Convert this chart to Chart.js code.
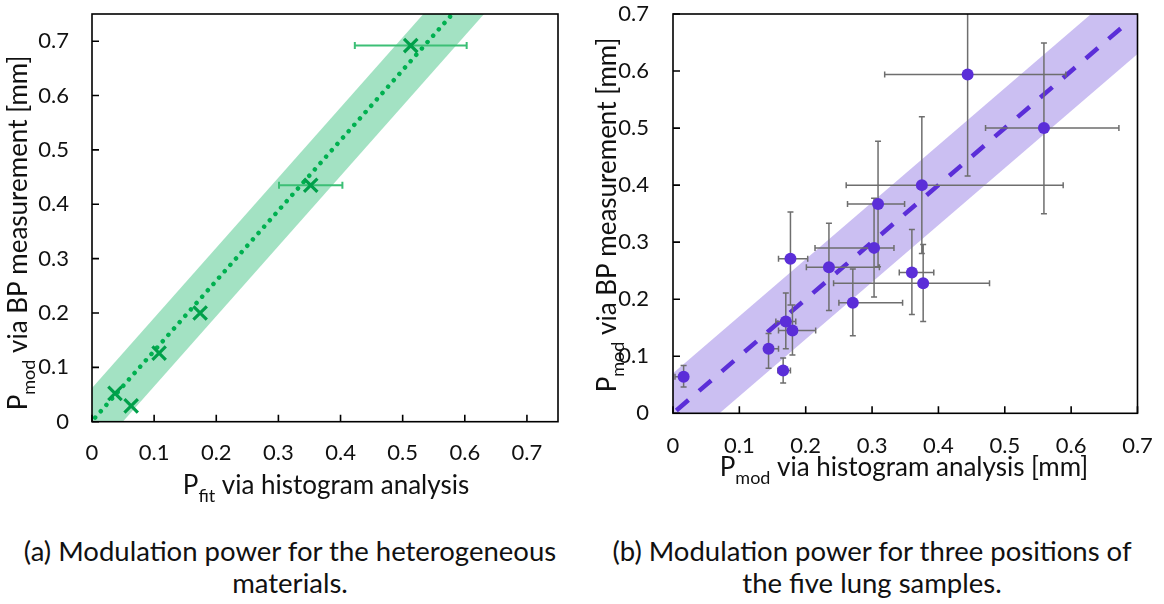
<!DOCTYPE html>
<html>
<head>
<meta charset="utf-8">
<script src="https://cdn.jsdelivr.net/npm/chart.js@4.4.1/dist/chart.umd.min.js"></script>
<style>
  html, body { margin: 0; padding: 0; background: #fff; }
  body { width: 1164px; height: 604px; position: relative; overflow: hidden; }
  canvas { position: absolute; top: 0; }
  #chartA { left: 0; }
  #chartB { left: 580px; }
  .caption {
    position: absolute; width: 580px; text-align: center;
    font-family: Lato, sans-serif; font-size: 27.5px; line-height: 32px; color: #111;
  }
</style>
</head>
<body>
<canvas id="chartA" width="580" height="520"></canvas>
<canvas id="chartB" width="584" height="520"></canvas>
<div class="caption" style="left:0; top:535px;">(a) Modulation power for the heterogeneous<br>materials.</div>
<div class="caption" style="left:582px; top:535px;">(b) Modulation power for three positions of<br>the five lung samples.</div>
<script>
(() => {
  // ---- DATA ----
  const tickVals = [0, 0.1, 0.2, 0.3, 0.4, 0.5, 0.6, 0.7];
  const tickText = ["0", "0.1", "0.2", "0.3", "0.4", "0.5", "0.6", "0.7"];

  // (a) heterogeneous materials
  const matX = [0.037, 0.063, 0.108, 0.174, 0.352, 0.513];
  const matY = [0.052, 0.029, 0.126, 0.200, 0.435, 0.692];
  const matXErr = [0, 0, 0, 0, 0.051, 0.090];
  const matFitX = [0.005, 0.58];
  const matFitY = [0.0075, 0.75];
  const matBandX = [0, 0.7];
  const matBandHi = [0.062, 0.965];
  const matBandLo = [-0.064, 0.839];

  // (b) lung samples
  const lungX   = [0.444, 0.559, 0.375, 0.309, 0.303, 0.177, 0.235, 0.360, 0.377, 0.271, 0.170, 0.180, 0.144, 0.166, 0.016];
  const lungY   = [0.594, 0.500, 0.400, 0.367, 0.290, 0.271, 0.256, 0.247, 0.228, 0.194, 0.161, 0.145, 0.113, 0.075, 0.064];
  const lungXLo = [0.319, 0.471, 0.261, 0.263, 0.214, 0.159, 0.201, 0.341, 0.242, 0.250, 0.155, 0.159, 0.139, 0.158, 0.003];
  const lungXHi = [0.592, 0.672, 0.588, 0.349, 0.333, 0.203, 0.311, 0.393, 0.477, 0.346, 0.185, 0.215, 0.159, 0.177, 0.022];
  const lungYLo = [0.416, 0.350, 0.280, 0.257, 0.204, 0.190, 0.180, 0.173, 0.161, 0.136, 0.113, 0.102, 0.079, 0.053, 0.046];
  const lungYHi = [0.772, 0.649, 0.520, 0.477, 0.377, 0.353, 0.333, 0.322, 0.296, 0.253, 0.211, 0.190, 0.140, 0.097, 0.084];
  const lungFitX = [0.005, 0.685];
  const lungFitY = [0.005, 0.685];
  const lungBandX = [0, 0.7];
  const lungBandHi = [0.07, 0.77];
  const lungBandLo = [-0.07, 0.63];

  const FONT = "Lato";
  const pts = (xs, ys) => xs.map((x, i) => ({ x: x, y: ys[i] }));

  // ---- HELPERS ----
  function makeScale(max, size, pad) {
    return {
      type: "linear",
      min: 0,
      max: max,
      grid: { display: false, drawTicks: false },
      border: { display: false },
      afterBuildTicks: s => { s.ticks = tickVals.map(v => ({ value: v })); },
      afterFit: s => {
        if (s.isHorizontal()) { s.height = size; s.paddingLeft = 0; s.paddingRight = 0; }
        else { s.width = size; s.paddingTop = 0; s.paddingBottom = 0; }
      },
      ticks: {
        padding: pad,
        color: "#111",
        autoSkip: false,
        maxRotation: 0,
        font: { family: FONT, size: 22 },
        callback: (v, i) => tickText[i]
      }
    };
  }

  function drawParts(ctx, parts, size) {
    const base = size + "px " + FONT;
    const small = Math.round(size * 0.68) + "px " + FONT;
    let w = 0;
    parts.forEach(p => { ctx.font = p.sub ? small : base; w += ctx.measureText(p.t).width; });
    let x = -w / 2;
    parts.forEach(p => {
      ctx.font = p.sub ? small : base;
      ctx.fillText(p.t, x, p.sub ? size * 0.3 : 0);
      x += ctx.measureText(p.t).width;
    });
  }

  // ---- PLUGINS ----
  const frame = {
    id: "frame",
    afterDatasetsDraw(chart) {
      const { ctx, chartArea: a, scales } = chart;
      ctx.save();
      ctx.strokeStyle = "#000";
      ctx.lineWidth = 1.6;
      ctx.strokeRect(a.left, a.top, a.right - a.left, a.bottom - a.top);
      ctx.beginPath();
      tickVals.forEach(v => {
        const x = scales.x.getPixelForValue(v);
        ctx.moveTo(x, a.bottom); ctx.lineTo(x, a.bottom - 7);
        const y = scales.y.getPixelForValue(v);
        ctx.moveTo(a.left, y); ctx.lineTo(a.left + 7, y);
      });
      ctx.stroke();
      ctx.restore();
    }
  };

  const axisTitles = {
    id: "axisTitles",
    afterDraw(chart, args, o) {
      const ctx = chart.ctx;
      ctx.save();
      ctx.fillStyle = "#111";
      ctx.textBaseline = "alphabetic";
      ctx.translate(o.x.cx, o.x.cy);
      drawParts(ctx, o.x.parts, o.size);
      ctx.restore();
      ctx.save();
      ctx.fillStyle = "#111";
      ctx.textBaseline = "alphabetic";
      ctx.translate(o.y.cx, o.y.cy);
      ctx.rotate(-Math.PI / 2);
      drawParts(ctx, o.y.parts, o.size);
      ctx.restore();
    }
  };

  // error bars go under the markers but over the band
  const errorBars = {
    id: "errorBars",
    beforeDatasetDraw(chart, args, o) {
      if (args.index !== o.datasetIndex) return;
      const { ctx, chartArea: a, scales } = chart;
      const X = v => scales.x.getPixelForValue(v);
      const Y = v => scales.y.getPixelForValue(v);
      const c = o.cap;
      ctx.save();
      ctx.beginPath();
      ctx.rect(a.left, a.top, a.right - a.left, a.bottom - a.top);
      ctx.clip();
      ctx.strokeStyle = o.color;
      ctx.lineWidth = o.width;
      ctx.beginPath();
      o.x.forEach((x, i) => {
        const y = o.y[i];
        if (o.xLo[i] < o.xHi[i]) {
          ctx.moveTo(X(o.xLo[i]), Y(y)); ctx.lineTo(X(o.xHi[i]), Y(y));
          ctx.moveTo(X(o.xLo[i]), Y(y) - c); ctx.lineTo(X(o.xLo[i]), Y(y) + c);
          ctx.moveTo(X(o.xHi[i]), Y(y) - c); ctx.lineTo(X(o.xHi[i]), Y(y) + c);
        }
        if (o.yLo && o.yLo[i] < o.yHi[i]) {
          ctx.moveTo(X(x), Y(o.yLo[i])); ctx.lineTo(X(x), Y(o.yHi[i]));
          ctx.moveTo(X(x) - c, Y(o.yLo[i])); ctx.lineTo(X(x) + c, Y(o.yLo[i]));
          ctx.moveTo(X(x) - c, Y(o.yHi[i])); ctx.lineTo(X(x) + c, Y(o.yHi[i]));
        }
      });
      ctx.stroke();
      ctx.restore();
    }
  };

  // ---- CHART A ----
  new Chart(document.getElementById("chartA"), {
    type: "scatter",
    data: {
      datasets: [
        { type: "line", data: pts(matBandX, matBandHi), borderWidth: 0, pointRadius: 0, fill: false, clip: 0, order: 5 },
        { type: "line", data: pts(matBandX, matBandLo), borderWidth: 0, pointRadius: 0, fill: "-1",
          backgroundColor: "#a3e2c3", clip: 0, order: 4 },
        { type: "line", data: pts(matFitX, matFitY), borderColor: "#00b050", borderWidth: 4.5,
          borderDash: [0.1, 8.4], borderCapStyle: "round", pointRadius: 0, fill: false, clip: 0, order: 2 },
        { data: pts(matX, matY), pointStyle: "crossRot", pointRadius: 9.5, borderWidth: 3.2,
          borderColor: "#00a04a", backgroundColor: "#00a04a", order: 1 }
      ]
    },
    options: {
      responsive: false,
      animation: false,
      devicePixelRatio: 1,
      layout: { autoPadding: false, padding: { top: 14, right: 22, left: 0, bottom: 0 } },
      scales: { x: makeScale(0.75, 98.3, 18), y: makeScale(0.75, 92, 23) },
      plugins: {
        legend: { display: false },
        tooltip: { enabled: false },
        errorBars: { datasetIndex: 3, x: matX, y: matY, color: "#3cbf76", width: 2, cap: 3.5,
          xLo: matX.map((v, i) => v - matXErr[i]), xHi: matX.map((v, i) => v + matXErr[i]) },
        axisTitles: {
          size: 26,
          x: { cx: 326, cy: 494, parts: [{ t: "P" }, { t: "fit", sub: true }, { t: " via histogram analysis" }] },
          y: { cx: 27, cy: 233, parts: [{ t: "P" }, { t: "mod", sub: true }, { t: " via BP measurement [mm]" }] }
        }
      }
    },
    plugins: [errorBars, frame, axisTitles]
  });

  // ---- CHART B ----
  new Chart(document.getElementById("chartB"), {
    type: "scatter",
    data: {
      datasets: [
        { type: "line", data: pts(lungBandX, lungBandHi), borderWidth: 0, pointRadius: 0, fill: false, clip: 0, order: 5 },
        { type: "line", data: pts(lungBandX, lungBandLo), borderWidth: 0, pointRadius: 0, fill: "-1",
          backgroundColor: "#cbbff2", clip: 0, order: 4 },
        { type: "line", data: pts(lungFitX, lungFitY), borderColor: "#5b2ed8", borderWidth: 4.5,
          borderDash: [16, 14], pointRadius: 0, fill: false, clip: 0, order: 3 },
        { data: pts(lungX, lungY), pointStyle: "circle", pointRadius: 6, borderWidth: 0,
          backgroundColor: "#5b2ed8", order: 1 }
      ]
    },
    options: {
      responsive: false,
      animation: false,
      devicePixelRatio: 1,
      layout: { autoPadding: false, padding: { top: 14, right: 26.5, left: 0, bottom: 0 } },
      scales: { x: makeScale(0.7, 106.7, 19), y: makeScale(0.7, 93, 24) },
      plugins: {
        legend: { display: false },
        tooltip: { enabled: false },
        errorBars: { datasetIndex: 3, x: lungX, y: lungY, color: "#6e6e6e", width: 1.5, cap: 3,
          xLo: lungXLo, xHi: lungXHi, yLo: lungYLo, yHi: lungYHi },
        axisTitles: {
          size: 26,
          x: { cx: 324, cy: 476, parts: [{ t: "P" }, { t: "mod", sub: true }, { t: " via histogram analysis [mm]" }] },
          y: { cx: 36, cy: 215, parts: [{ t: "P" }, { t: "mod", sub: true }, { t: " via BP measurement [mm]" }] }
        }
      }
    },
    plugins: [errorBars, frame, axisTitles]
  });
})();
</script>
</body>
</html>
